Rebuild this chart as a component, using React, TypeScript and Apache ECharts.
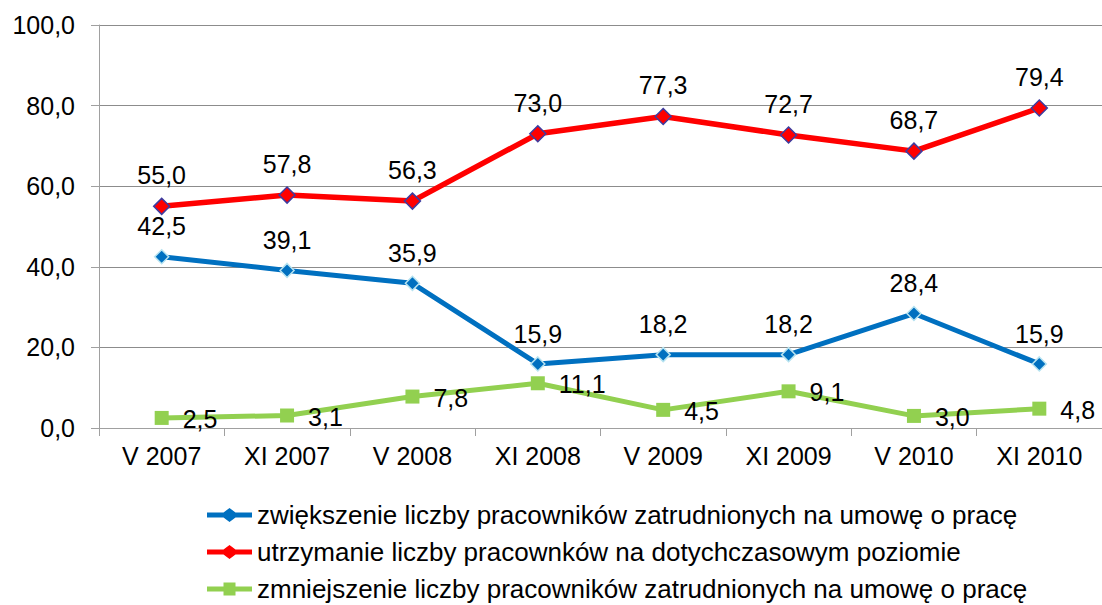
import React, { useEffect, useRef } from "react";
import * as echarts from "echarts";

const categories = ["V 2007", "XI 2007", "V 2008", "XI 2008", "V 2009", "XI 2009", "V 2010", "XI 2010"];
const seriesNames = [
  "zwiększenie liczby pracowników zatrudnionych na umowę o pracę",
  "utrzymanie liczby pracownków na dotychczasowym poziomie",
  "zmniejszenie liczby pracowników zatrudnionych na umowę o pracę",
];
const increaseValues = [42.5, 39.1, 35.9, 15.9, 18.2, 18.2, 28.4, 15.9];
const keepValues = [55.0, 57.8, 56.3, 73.0, 77.3, 72.7, 68.7, 79.4];
const decreaseValues = [2.5, 3.1, 7.8, 11.1, 4.5, 9.1, 3.0, 4.8];

const FONT = "'Liberation Sans', Arial, sans-serif";
const fmt = (v: number) => v.toFixed(1).replace(".", ",");

const diamondIcon = "path://M0,4.5 L16.5,4.5 L22.5,0 L28.5,4.5 L45,4.5 L45,9.5 L28.5,9.5 L22.5,14 L16.5,9.5 L0,9.5 Z";
const squareIcon = "path://M0,4.5 L16.5,4.5 L16.5,0.5 L28.5,0.5 L28.5,4.5 L45,4.5 L45,9.5 L28.5,9.5 L28.5,13.5 L16.5,13.5 L16.5,9.5 L0,9.5 Z";

export default function App() {
  const ref = useRef<HTMLDivElement>(null);
  useEffect(() => {
    if (!ref.current) return;
    const chart = echarts.init(ref.current, null, { renderer: "svg" });
    const labelBase = {
      show: true,
      fontFamily: FONT,
      fontSize: 25,
      color: "#000",
      formatter: (p: any) => fmt(p.value),
    };
    const noBorder = { borderWidth: 0 };
    chart.setOption({
      animation: false,
      backgroundColor: "#fff",
      textStyle: { fontFamily: FONT },
      grid: { left: 99, right: 0, top: 25, bottom: 177, containLabel: false },
      xAxis: {
        type: "category",
        data: categories,
        boundaryGap: true,
        axisLine: { show: true, lineStyle: { color: "#a0a0a0", width: 1 } },
        axisTick: { show: true, length: 8, lineStyle: { color: "#a0a0a0" } },
        axisLabel: { fontFamily: FONT, fontSize: 25, color: "#000", margin: 15 },
      },
      yAxis: {
        type: "value",
        min: 0,
        max: 100,
        interval: 20,
        axisLine: { show: true, lineStyle: { color: "#a0a0a0", width: 1 } },
        axisTick: { show: true, length: 8, lineStyle: { color: "#a0a0a0" } },
        splitLine: { show: true, lineStyle: { color: "#8c8c8c", width: 1 } },
        axisLabel: {
          fontFamily: FONT,
          fontSize: 25,
          color: "#000",
          margin: 24,
          formatter: (v: number) => fmt(v),
        },
      },
      legend: {
        orient: "vertical",
        left: 207,
        top: 502,
        width: 880,
        height: 130,
        padding: 0,
        itemGap: 11,
        itemWidth: 45,
        itemHeight: 14,
        textStyle: { fontFamily: FONT, fontSize: 26, color: "#000" },
        data: [
          { name: seriesNames[0], icon: diamondIcon, itemStyle: noBorder },
          { name: seriesNames[1], icon: diamondIcon, itemStyle: noBorder },
          { name: seriesNames[2], icon: squareIcon, itemStyle: noBorder },
        ],
      },
      series: [
        {
          name: seriesNames[0],
          type: "line",
          data: increaseValues,
          symbol: "diamond",
          symbolSize: 14,
          lineStyle: { color: "#0070C0", width: 5 },
          itemStyle: { color: "#0070C0", borderColor: "#b7e3f0", borderWidth: 1.5 },
          label: { ...labelBase, position: "top", distance: 10 },
          z: 3,
        },
        {
          name: seriesNames[1],
          type: "line",
          data: keepValues,
          symbol: "diamond",
          symbolSize: 16,
          lineStyle: { color: "#FF0000", width: 5.5 },
          itemStyle: { color: "#FF0000", borderColor: "#3c3ca0", borderWidth: 1.5 },
          label: { ...labelBase, position: "top", distance: 10 },
          z: 3,
        },
        {
          name: seriesNames[2],
          type: "line",
          data: decreaseValues,
          symbol: "rect",
          symbolSize: 14,
          lineStyle: { color: "#92D050", width: 5 },
          itemStyle: { color: "#92D050" },
          label: { ...labelBase, position: "right", distance: 14, offset: [0, 1] },
          z: 2,
        },
      ],
    });
    return () => chart.dispose();
  }, []);
  return <div ref={ref} style={{ width: 1102, height: 605, position: "absolute", left: 0, top: 0 }} />;
}
